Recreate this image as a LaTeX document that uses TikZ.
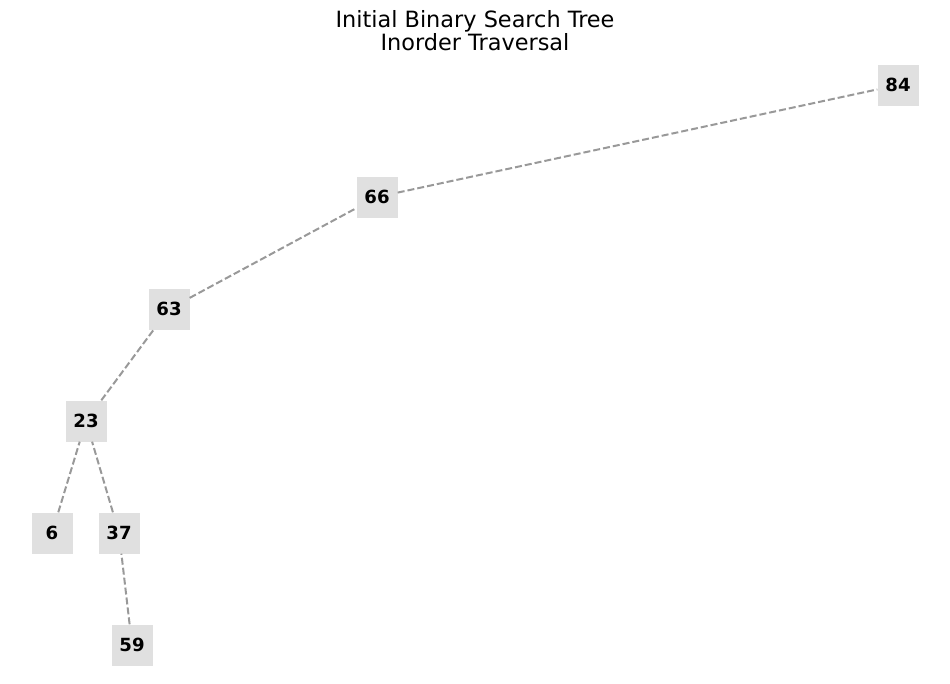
\documentclass[tikz,border=0pt]{standalone}
\usepackage{fontspec}
\setmainfont{DejaVu Sans}
\usepackage{xcolor}
\usetikzlibrary{positioning}

\definecolor{keyfill}{HTML}{E0E0E0}
\definecolor{linkgray}{HTML}{999999}

\begin{document}
\begin{tikzpicture}[
    x=1pt, y=-1pt,
    keynode/.style={rectangle, fill=keyfill, minimum width=41pt, minimum height=41pt, inner sep=0pt, font=\fontsize{18.1}{20}\selectfont\bfseries},
    link/.style={draw=linkgray, line width=2pt, dash pattern=on 7pt off 3pt}
]
\useasboundingbox (0,0) rectangle (950,683);

% Title
\node[align=center, font=\fontsize{22.4}{23.5}\selectfont] (title) at (475,30.5) {Initial Binary Search Tree\\Inorder Traversal};

% Keys
\node[keynode] (k84) at (898,85) {84};
\node[keynode] (k66) at (377,197) {66};
\node[keynode] (k63) at (169,309) {63};
\node[keynode] (k23) at (86,421) {23};
\node[keynode] (k6) at (52,533) {6};
\node[keynode] (k37) at (119,533) {37};
\node[keynode] (k59) at (132,645) {59};

% Links
\draw[link] (k66) -- (k84);
\draw[link] (k63) -- (k66);
\draw[link] (k23) -- (k63);
\draw[link] (k6) -- (k23);
\draw[link] (k37) -- (k23);
\draw[link] (k59) -- (k37);

\end{tikzpicture}
\end{document}
